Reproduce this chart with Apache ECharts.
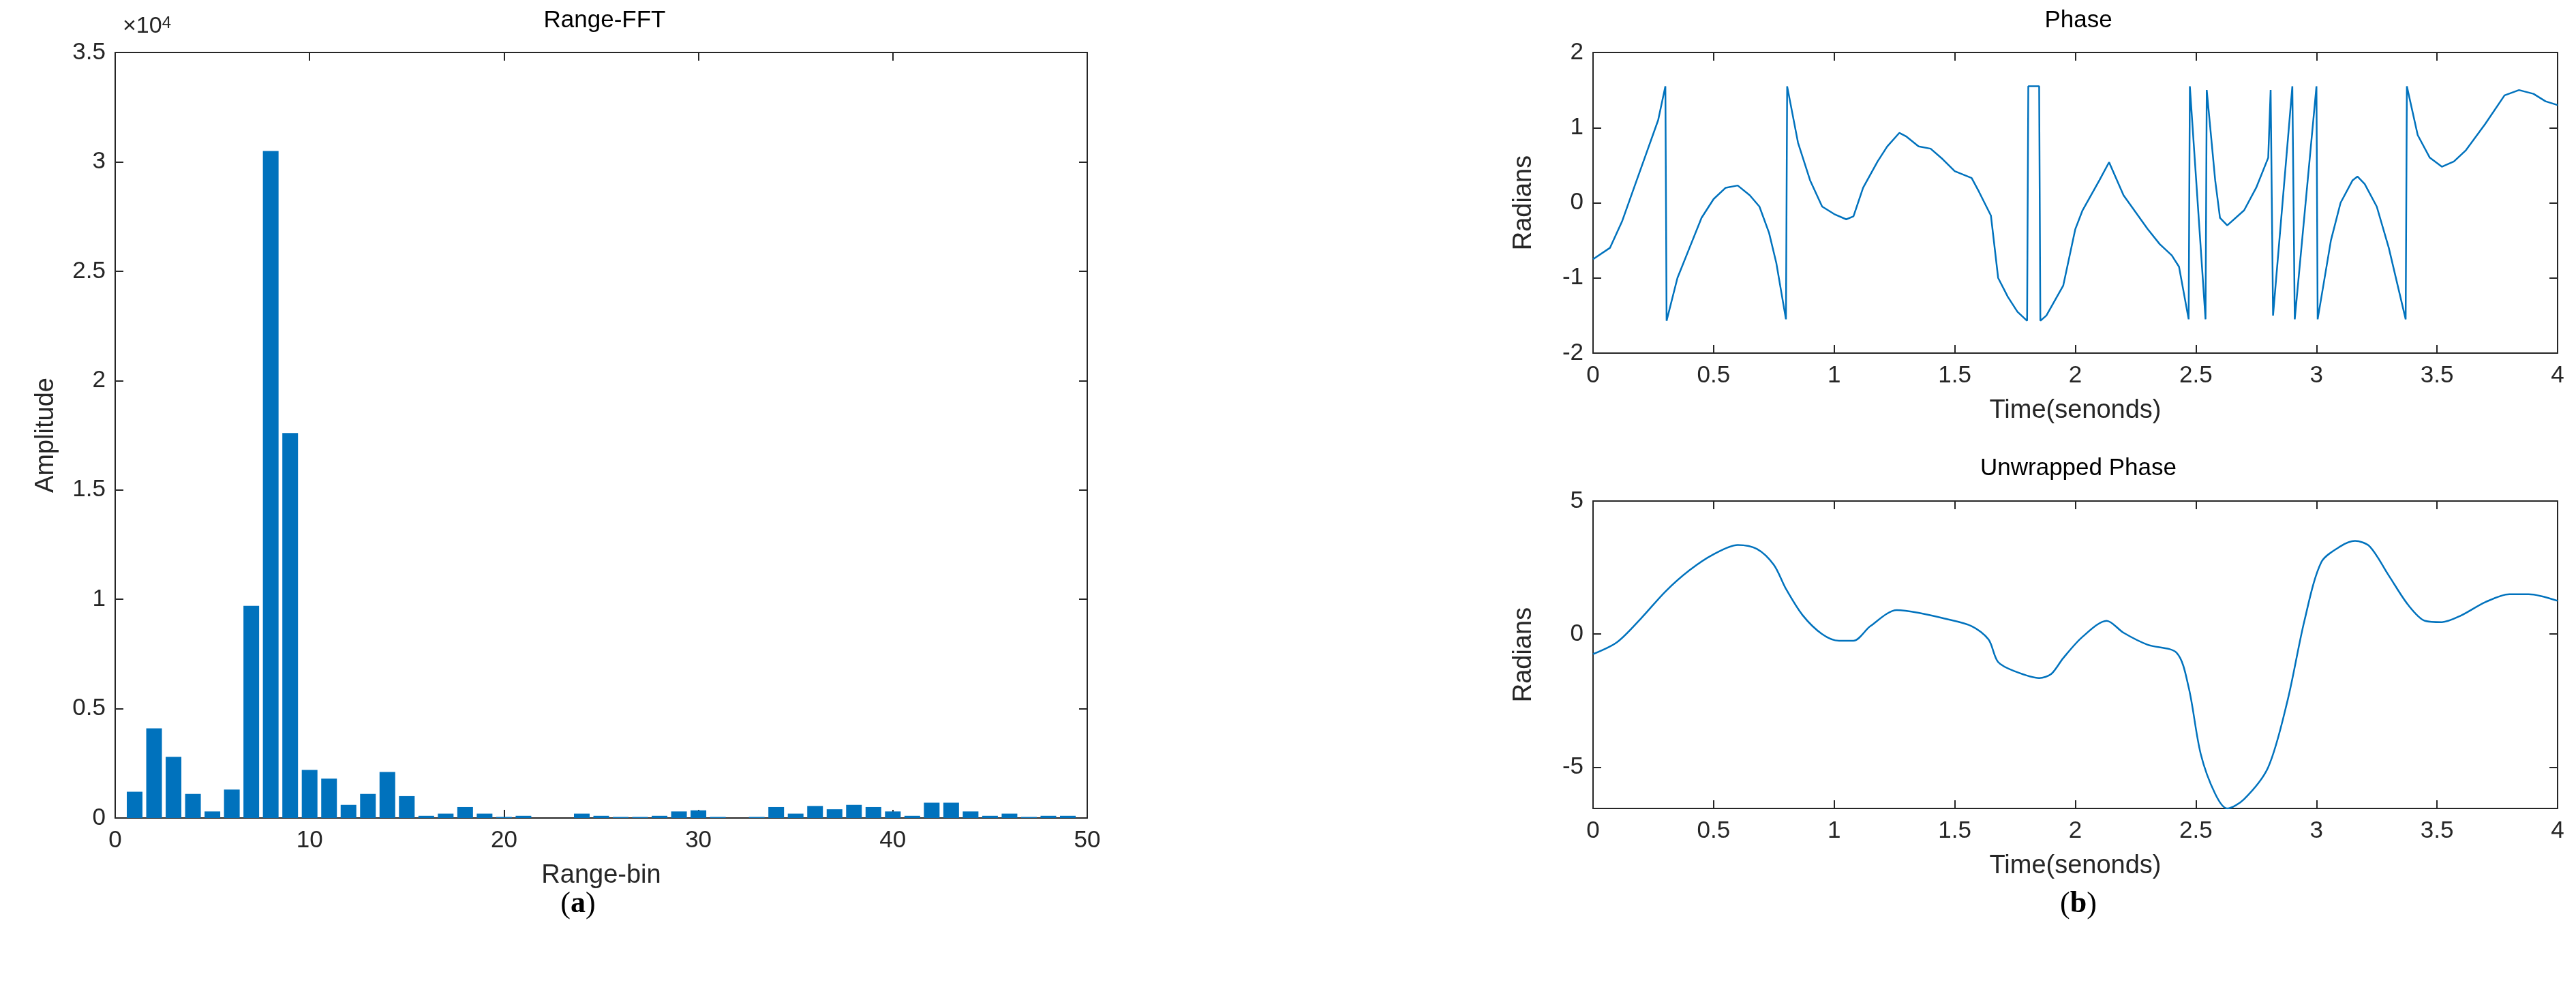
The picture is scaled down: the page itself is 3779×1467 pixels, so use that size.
<!DOCTYPE html>
<html><head><meta charset="utf-8">
<script src="https://cdn.jsdelivr.net/npm/echarts@6/dist/echarts.min.js"></script>
<style>html,body{margin:0;background:#fff}#c{width:3779px;height:1467px}</style>
</head><body><div id="c"></div>
<script>
const rangeBins = [1,2,3,4,5,6,7,8,9,10,11,12,13,14,15,16,17,18,19,20,21,22,23,24,25,26,27,28,29,30,31,32,33,34,35,36,37,38,39,40,41,42,43,44,45,46,47,48,49];
const amplitude = [1200,4100,2800,1100,300,1300,9700,30500,17600,2200,1800,600,1100,2100,1000,100,200,500,200,50,100,0,0,200,100,50,50,100,300,350,50,0,50,500,200,550,400,600,500,300,100,700,700,300,100,200,50,100,100];
const phaseT = [0,0.07,0.12,0.17,0.22,0.27,0.3,0.305,0.35,0.4,0.45,0.5,0.55,0.6,0.65,0.69,0.73,0.76,0.8,0.805,0.85,0.9,0.95,1.0,1.05,1.08,1.12,1.18,1.22,1.27,1.3,1.35,1.4,1.45,1.5,1.57,1.6,1.65,1.68,1.72,1.76,1.8,1.805,1.85,1.855,1.88,1.95,2.0,2.03,2.1,2.14,2.2,2.3,2.35,2.4,2.43,2.47,2.475,2.54,2.545,2.58,2.6,2.63,2.7,2.75,2.8,2.81,2.82,2.9,2.91,3.0,3.005,3.06,3.1,3.15,3.17,3.2,3.25,3.3,3.37,3.375,3.42,3.47,3.52,3.57,3.62,3.7,3.78,3.84,3.9,3.95,4.0];
const phaseV = [-0.75,-0.6,-0.25,0.2,0.65,1.1,1.55,-1.57,-1.0,-0.6,-0.2,0.05,0.2,0.23,0.1,-0.05,-0.4,-0.8,-1.55,1.55,0.8,0.3,-0.05,-0.15,-0.22,-0.18,0.2,0.55,0.75,0.93,0.88,0.75,0.72,0.58,0.42,0.33,0.15,-0.17,-1.0,-1.25,-1.45,-1.57,1.55,1.55,-1.57,-1.5,-1.1,-0.35,-0.1,0.3,0.54,0.1,-0.35,-0.55,-0.7,-0.85,-1.55,1.55,-1.55,1.5,0.3,-0.2,-0.3,-0.1,0.2,0.6,1.5,-1.5,1.55,-1.55,1.55,-1.55,-0.5,0.0,0.3,0.35,0.25,-0.05,-0.6,-1.55,1.55,0.9,0.6,0.48,0.55,0.7,1.05,1.43,1.5,1.45,1.35,1.3];
const unwrapT = [0,0.1,0.2,0.3,0.4,0.5,0.6,0.68,0.75,0.8,0.87,0.95,1.02,1.08,1.15,1.26,1.35,1.45,1.57,1.64,1.68,1.75,1.85,1.9,1.95,2.03,2.13,2.2,2.3,2.42,2.47,2.52,2.58,2.63,2.7,2.8,2.88,2.95,3.02,3.1,3.16,3.22,3.3,3.38,3.45,3.52,3.6,3.7,3.8,3.88,4.0];
const unwrapV = [-0.75,-0.3,0.6,1.6,2.4,3.0,3.35,3.2,2.6,1.7,0.7,0.0,-0.25,-0.25,0.3,0.9,0.8,0.6,0.3,-0.2,-1.05,-1.4,-1.65,-1.5,-0.9,-0.1,0.5,0.05,-0.4,-0.7,-2.0,-4.5,-6.0,-6.55,-6.2,-5.0,-2.5,0.5,2.7,3.3,3.5,3.3,2.2,1.1,0.5,0.45,0.7,1.2,1.5,1.5,1.25];

const F = 'Liberation Sans', FS = 35, NS = 38, C = '#262626', BLUE = '#0072BD';
const zip = (a,b)=>a.map((x,i)=>[x,b[i]]);
function xa(gi,min,max,iv,name){return [
 {type:'value',gridIndex:gi,min,max,interval:iv,name,nameLocation:'middle',nameGap:66,
  nameTextStyle:{fontFamily:F,fontSize:NS,color:C},
  axisLine:{show:true,onZero:false,lineStyle:{color:C,width:2}},axisTick:{inside:true,length:12,lineStyle:{color:C,width:2}},
  axisLabel:{fontFamily:F,fontSize:FS,color:C,margin:16},splitLine:{show:false}},
 {type:'value',gridIndex:gi,position:'top',min,max,interval:iv,
  axisLine:{show:true,onZero:false,lineStyle:{color:C,width:2}},axisTick:{inside:true,length:12,lineStyle:{color:C,width:2}},
  axisLabel:{show:false},splitLine:{show:false}}];}
function ya(gi,min,max,iv,name,custom,fmt){const t={inside:true,length:12,lineStyle:{color:C,width:2}};const l={fontFamily:F,fontSize:FS,color:C,margin:14};
 if(custom){t.customValues=custom;l.customValues=custom;}
 if(fmt)l.formatter=fmt;
 return [
 {type:'value',gridIndex:gi,min,max,interval:iv,name,nameLocation:'middle',nameGap:82,
  nameTextStyle:{fontFamily:F,fontSize:NS,color:C},
  axisLine:{show:true,onZero:false,lineStyle:{color:C,width:2}},axisTick:t,axisLabel:l,splitLine:{show:false}},
 {type:'value',gridIndex:gi,position:'right',min,max,interval:iv,
  axisLine:{show:true,onZero:false,lineStyle:{color:C,width:2}},axisTick:Object.assign({},t),axisLabel:{show:false},splitLine:{show:false}}];}

const ts = {fontFamily:F,fontSize:FS,fontWeight:'normal',color:'#000'};
const cap = {fontFamily:'Liberation Serif',fontSize:44,fontWeight:'normal',color:'#000',rich:{b:{fontFamily:'Liberation Serif',fontSize:44,fontWeight:'bold',color:'#000'}}};
const chart = echarts.init(document.getElementById('c'));
chart.setOption({
 backgroundColor:'#fff', animation:false,
 title:[
  {text:'Range-FFT',left:882,top:8,textAlign:'center',textStyle:ts},
  {text:'Phase',left:3044,top:8,textAlign:'center',textStyle:ts},
  {text:'Unwrapped Phase',left:3044,top:665,textAlign:'center',textStyle:ts},
  {text:'({b|a})',left:843,top:1300,textAlign:'center',textStyle:cap},
  {text:'({b|b})',left:3044,top:1300,textAlign:'center',textStyle:cap}
 ],
 graphic:[{type:'text',left:180,top:22,style:{text:'×10{s|4}',rich:{s:{fontSize:24,verticalAlign:'top',fontFamily:F,fill:C}},font:'34px Liberation Sans',fill:C}}],
 grid:[
  {left:169,width:1426,top:77,height:1123},
  {left:2337,width:1415,top:77,height:441},
  {left:2337,width:1415,top:735,height:451}
 ],
 xAxis:[...xa(0,0,50,10,'Range-bin'),...xa(1,0,4,0.5,'Time(senonds)'),...xa(2,0,4,0.5,'Time(senonds)')],
 yAxis:[...ya(0,0,35000,5000,'Amplitude',null,v=>String(v/10000)),...ya(1,-2,2,1,'Radians'),...ya(2,-6.55,5,null,'Radians',[-5,0,5])],
 series:[
  {type:'bar',xAxisIndex:0,yAxisIndex:0,data:zip(rangeBins,amplitude),barWidth:23,itemStyle:{color:BLUE}},
  {type:'line',xAxisIndex:2,yAxisIndex:2,data:zip(phaseT,phaseV),showSymbol:false,smooth:false,lineStyle:{color:BLUE,width:2.5}},
  {type:'line',xAxisIndex:4,yAxisIndex:4,data:zip(unwrapT,unwrapV),showSymbol:false,smooth:0.3,lineStyle:{color:BLUE,width:2.5}}
 ]
});
</script></body></html>
